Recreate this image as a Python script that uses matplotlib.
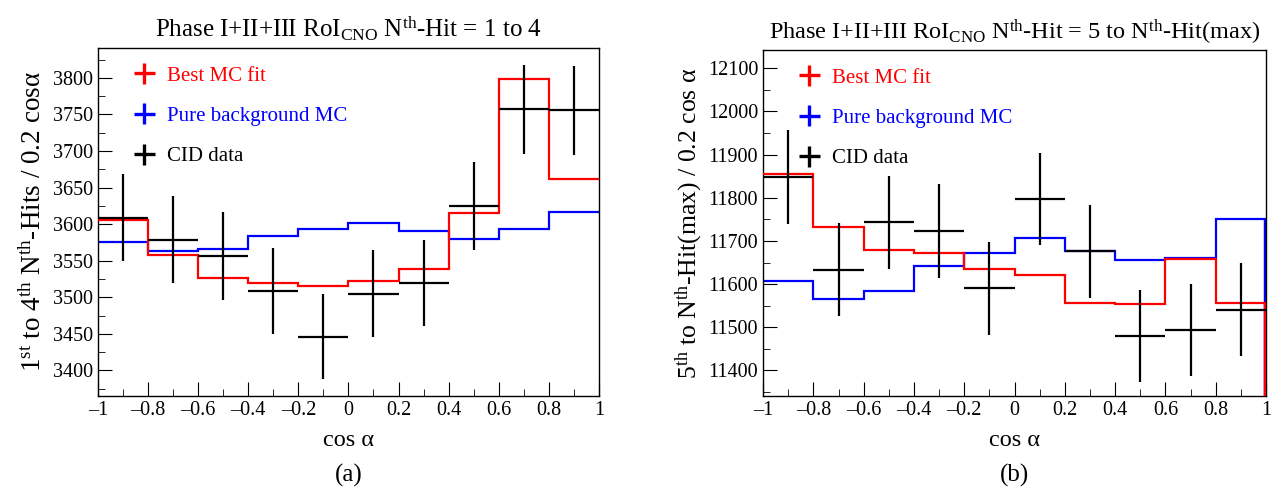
import numpy as np
import matplotlib
matplotlib.use("Agg")
import matplotlib.pyplot as plt
from matplotlib.ticker import MultipleLocator

plt.rcParams['font.family'] = ['Liberation Serif', 'DejaVu Serif']
plt.rcParams['mathtext.fontset'] = 'custom'
plt.rcParams['mathtext.rm'] = 'Liberation Serif'
plt.rcParams['mathtext.it'] = 'Liberation Serif:italic'
plt.rcParams['font.size'] = 14

# bin edges in cos(alpha)
edges = [-1.0, -0.8, -0.6, -0.4, -0.2, 0.0, 0.2, 0.4, 0.6, 0.8, 1.0]
centers = [-0.9, -0.7, -0.5, -0.3, -0.1, 0.1, 0.3, 0.5, 0.7, 0.9]

# (a) 1st to 4th hits
data_a = [3609, 3579, 3556, 3509, 3446, 3505, 3520, 3625, 3757, 3756]
err_a = [59, 60, 60, 59, 58, 59, 59, 60, 61, 61]
fit_a = [3606, 3558, 3527, 3520, 3516, 3522, 3538, 3615, 3798, 3662]
bkg_a = [3575, 3563, 3566, 3584, 3593, 3602, 3591, 3580, 3594, 3617]

# (b) 5th to last hit
data_b = [11848, 11633, 11743, 11723, 11590, 11797, 11676, 11480, 11494, 11541]
err_b = [108, 108, 108, 108, 108, 107, 108, 107, 107, 107]
fit_b = [11855, 11732, 11680, 11673, 11635, 11620, 11557, 11555, 11657, 11557]
bkg_b = [11608, 11565, 11585, 11642, 11673, 11707, 11676, 11656, 11660, 11750]

fig = plt.figure(figsize=(12.82, 4.93), dpi=100)
ax1 = fig.add_axes([0.0764, 0.1968, 0.3908, 0.7059])
ax2 = fig.add_axes([0.5952, 0.1968, 0.3924, 0.7018])


def draw(ax, data, err, fit, bkg, ylim, major, minor, drop):
    ax.stairs(bkg, edges, baseline=None, color='blue', lw=1.6, zorder=2)
    ax.stairs(fit, edges, baseline=None, color='red', lw=1.6, zorder=3)
    if drop:
        ax.vlines(edges[-1], ylim[0], bkg[-1], color='blue', lw=3.2, zorder=2)
        ax.vlines(edges[-1], ylim[0], fit[-1], color='red', lw=3.2, zorder=3)
    ax.errorbar(centers, data, xerr=0.1, yerr=err, fmt='none', ecolor='black',
                elinewidth=1.6, capsize=0, zorder=4)
    ax.set_xlim(-1, 1)
    ax.set_ylim(*ylim)
    ax.xaxis.set_major_locator(MultipleLocator(0.2))
    ax.xaxis.set_minor_locator(MultipleLocator(0.1))
    ax.yaxis.set_major_locator(MultipleLocator(major))
    ax.yaxis.set_minor_locator(MultipleLocator(minor))
    ax.tick_params(which='both', direction='in', top=False, right=False, labelsize=14.5)
    ax.tick_params(which='major', length=10)
    ax.tick_params(which='minor', length=5)
    ax.xaxis.set_major_formatter(lambda v, p: '0' if abs(v) < 1e-9 else ('%g' % v).replace('-', '\u2013'))
    ax.set_xlabel('cos α', fontsize=17.5, labelpad=7)
    for s in ax.spines.values():
        s.set_linewidth(1.0)

    h_fit = ax.errorbar([], [], xerr=1, yerr=1, fmt='none', ecolor='red', elinewidth=2.4)
    h_bkg = ax.errorbar([], [], xerr=1, yerr=1, fmt='none', ecolor='blue', elinewidth=2.4)
    h_dat = ax.errorbar([], [], xerr=1, yerr=1, fmt='none', ecolor='black', elinewidth=2.4)
    leg = ax.legend([h_fit, h_bkg, h_dat], ['Best MC fit', 'Pure background MC', 'CID data'],
                    loc='upper left', frameon=False, fontsize=15, handlelength=1.6,
                    handletextpad=0.3, labelspacing=1.0, borderaxespad=0.3,
                    bbox_to_anchor=(0.03, 0.99))
    for t, c in zip(leg.get_texts(), ['red', 'blue', 'black']):
        t.set_color(c)


draw(ax1, data_a, err_a, fit_a, bkg_a, (3365, 3841), 50, 25, False)
draw(ax2, data_b, err_b, fit_b, bkg_b, (11341, 12142), 100, 50, True)

ax1.set_title(r'Phase I+II+III RoI$_{\rm CNO}$ N$^{\rm th}$-Hit = 1 to 4', fontsize=18, pad=8)
ax2.set_title(r'Phase I+II+III RoI$_{\rm CNO}$ N$^{\rm th}$-Hit = 5 to N$^{\rm th}$-Hit(max)', fontsize=17.5, pad=8)
ax1.set_ylabel(r'1$^{\rm st}$ to 4$^{\rm th}$ N$^{\rm th}$-Hits / 0.2 cosα', fontsize=19.5, labelpad=4)
ax2.set_ylabel(r'5$^{\rm th}$ to N$^{\rm th}$-Hit(max) / 0.2 cos α', fontsize=18.5, labelpad=2)

fig.text(0.2718, 0.035, '(a)', ha='center', va='center', fontsize=18)
fig.text(0.7914, 0.035, '(b)', ha='center', va='center', fontsize=18)

fig.savefig('out.png', dpi=100)
